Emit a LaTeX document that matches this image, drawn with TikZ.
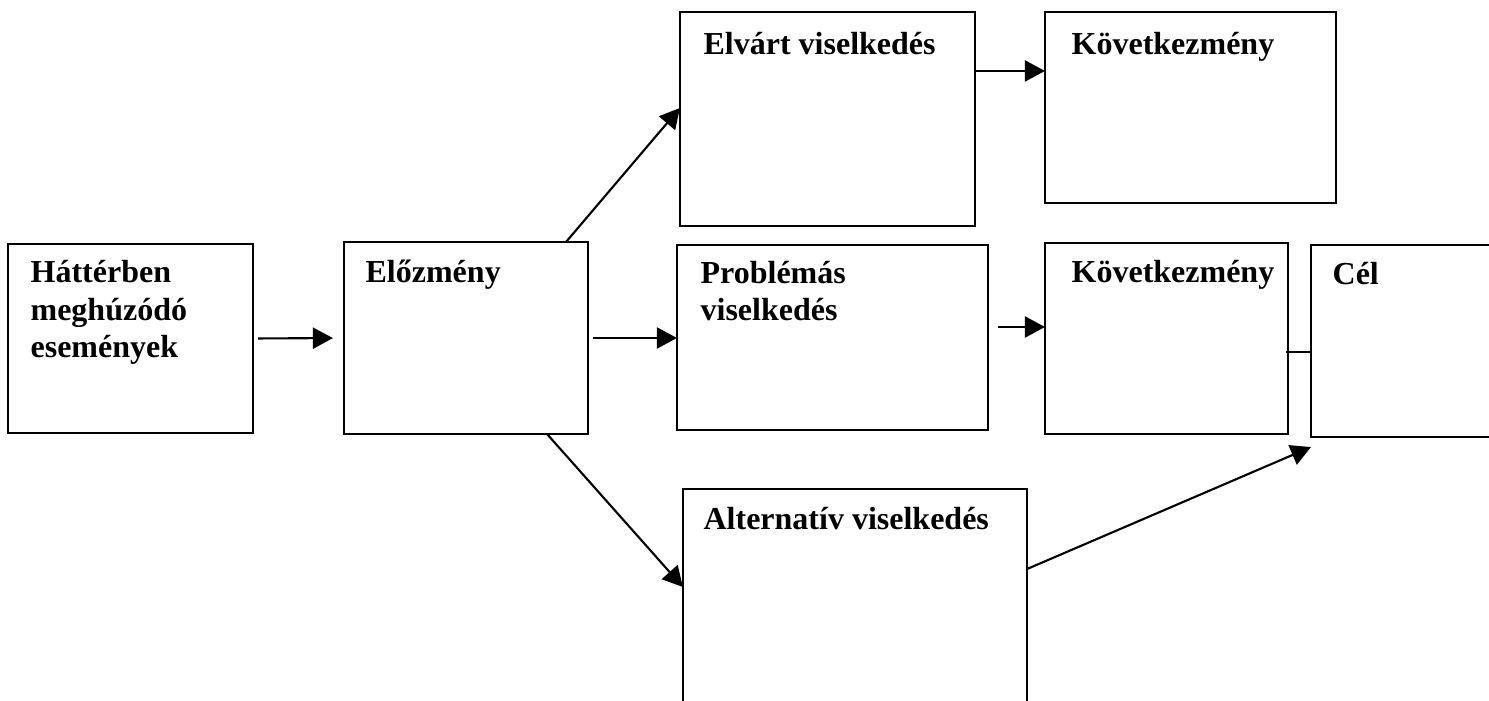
\documentclass[tikz,border=0pt]{standalone}
\usepackage{fontspec}
\setmainfont{Liberation Serif}
\usetikzlibrary{arrows.meta}

\begin{document}
\begin{tikzpicture}[x=0.01cm,y=0.01cm,
  box/.style={draw,line width=0.6pt,inner sep=0pt,outer sep=0pt},
  txt/.style={anchor=base west,inner sep=0pt,align=left,font=\bfseries\fontsize{9.1}{10.7}\selectfont},
  arr/.style={line width=0.6pt,-{Triangle[length=0.2cm,width=0.21cm]}}]
\useasboundingbox (0,0) rectangle (1489,700);
\clip (0,0) rectangle (1489,700);
% boxes
\node[box,minimum width=2.45cm,minimum height=1.89cm] (hatter) at (130.5,361.5) {};
\node[box,minimum width=2.44cm,minimum height=1.92cm] (elozmeny) at (466,362) {};
\node[box,minimum width=2.95cm,minimum height=2.14cm] (elvart) at (827.5,581) {};
\node[box,minimum width=2.91cm,minimum height=1.91cm] (kovA) at (1190.5,592.5) {};
\node[box,minimum width=3.11cm,minimum height=1.85cm] (problemas) at (832.5,362.5) {};
\node[box,minimum width=2.43cm,minimum height=1.91cm] (kovB) at (1166.5,361.5) {};
\node[box,minimum width=2.09cm,minimum height=1.92cm] (cel) at (1415.5,359) {};% cut at the right
\node[box,minimum width=3.44cm,minimum height=2.31cm] (alternativ) at (855,95.5) {};% cut at the bottom
% texts (base = last line)
\node[txt] (hatterT) at ([shift={(22,-114)}]hatter.north west) {Háttérben\\meghúzódó\\események};
\node[txt] (elozmenyT) at ([shift={(21,-41)}]elozmeny.north west) {Előzmény};
\node[txt] (elvartT) at ([shift={(23,-43)}]elvart.north west) {Elvárt viselkedés};
\node[txt] (kovAT) at ([shift={(26,-43)}]kovA.north west) {Következmény};
\node[txt] (problemasT) at ([shift={(23,-76)}]problemas.north west) {Problémás\\viselkedés};
\node[txt] (kovBT) at ([shift={(26,-40)}]kovB.north west) {Következmény};
\node[txt] (celT) at ([shift={(21,-40)}]cel.north west) {Cél};
\node[txt] (alternativT) at ([shift={(20,-41)}]alternativ.north west) {Alternatív viselkedés};
% connectors
\draw[arr,shorten <=0.05cm,shorten >=0.11cm] (hatter.east) -- (elozmeny.west);
\draw[arr,shorten <=0.05cm] (elozmeny.east) -- (elozmeny.east -| problemas.west);
\draw[arr] ([xshift=1cm]elozmeny.north) -- ([yshift=0.11cm]elvart.west);
\draw[arr] ([xshift=0.81cm]elozmeny.south) -- ([yshift=-0.98cm]alternativ.north west);
\coordinate (e1) at ([yshift=-0.59cm]elvart.north east);
\draw[arr] (e1) -- (e1 -| kovA.west);
\coordinate (p1) at ([shift={(10,10.5)}]problemas.east);
\draw[arr] (p1) -- (p1 -| kovB.west);
\coordinate (k1) at ([shift={(-2,-13.5)}]kovB.east);
\draw[line width=0.6pt] (k1) -- (k1 -| cel.west);
\draw[arr] ([yshift=-0.8cm]alternativ.north east) -- ([yshift=-0.1cm]cel.south west);
\end{tikzpicture}
\end{document}
